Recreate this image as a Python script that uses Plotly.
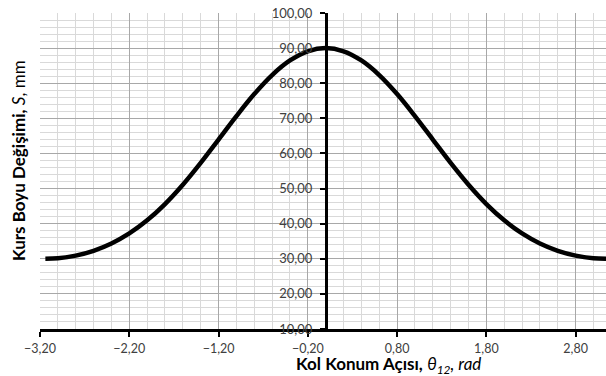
import plotly.graph_objects as go

theta = [-3.14, -3.0, -2.8, -2.6, -2.4, -2.2, -2.0, -1.8, -1.6, -1.4, -1.2, -1.0, -0.8, -0.6, -0.4, -0.2,
         0.0, 0.2, 0.4, 0.6, 0.8, 1.0, 1.2, 1.4, 1.6, 1.8, 2.0, 2.2, 2.4, 2.6, 2.8, 3.0, 3.14]
stroke = [30.0, 30.15, 30.89, 32.27, 34.35, 37.22, 40.96, 45.59, 51.09, 57.31, 63.96, 70.64, 76.91, 82.32, 86.48, 89.10,
          90.0, 89.10, 86.48, 82.32, 76.91, 70.64, 63.96, 57.31, 51.09, 45.59, 40.96, 37.22, 34.35, 32.27, 30.89, 30.15, 30.0]

x_min, x_max = -3.2, 3.14
y_min, y_max = 10, 100

fig = go.Figure()
fig.add_trace(go.Scatter(x=theta, y=stroke, mode="lines",
                         line=dict(color="black", width=4.5, shape="spline"),
                         hoverinfo="skip", showlegend=False))

font_family = "Lato, 'Open Sans', sans-serif"
fig.update_layout(
    width=606, height=376,
    margin=dict(l=40, r=0, t=13, b=47),
    paper_bgcolor="white", plot_bgcolor="white",
    separators=",.",
    font=dict(family=font_family, size=13, color="#404040"),
    xaxis=dict(
        range=[x_min, x_max], tick0=-3.2, dtick=1, tickformat=".2f",
        showgrid=True, gridcolor="#a8a8a8", gridwidth=1,
        minor=dict(dtick=0.2, tick0=-3.2, showgrid=True, gridcolor="#d9d9d9", gridwidth=1, ticks=""),
        showline=True, linecolor="black", linewidth=2.5,
        ticks="outside", ticklen=5, tickwidth=2, tickcolor="black",
        zeroline=False, ticklabelstandoff=1,
        tickfont=dict(size=12.5, color="#404040"),
    ),
    yaxis=dict(
        range=[y_min, y_max], tick0=10, dtick=10, tickformat=".2f",
        showgrid=True, gridcolor="#a8a8a8", gridwidth=1,
        minor=dict(dtick=2, tick0=10, showgrid=True, gridcolor="#d9d9d9", gridwidth=1, ticks=""),
        anchor="free", position=(0 - x_min) / (x_max - x_min),
        showline=True, linecolor="black", linewidth=2.5,
        ticks="outside", ticklen=5, tickwidth=2, tickcolor="black",
        zeroline=False, ticklabelstandoff=5,
        tickfont=dict(size=13, color="#404040"),
    ),
)

fig.add_annotation(
    text="<b>Kol Konum Açısı,</b> <i>θ<sub>12</sub>, rad</i>",
    xref="paper", yref="paper", x=(388 - 40) / 566, y=-(365 - 329) / 316,
    yanchor="middle", xanchor="center",
    showarrow=False, font=dict(size=17, color="black", family=font_family),
)
fig.add_annotation(
    text="<b>Kurs Boyu Değişimi,</b> <i>S</i>, mm",
    xref="paper", yref="paper", x=0, xshift=-22, y=(329 - 161) / 316, yanchor="middle", xanchor="center",
    textangle=-90, showarrow=False, font=dict(size=17, color="black", family=font_family),
)

fig.write_html("out.html")
